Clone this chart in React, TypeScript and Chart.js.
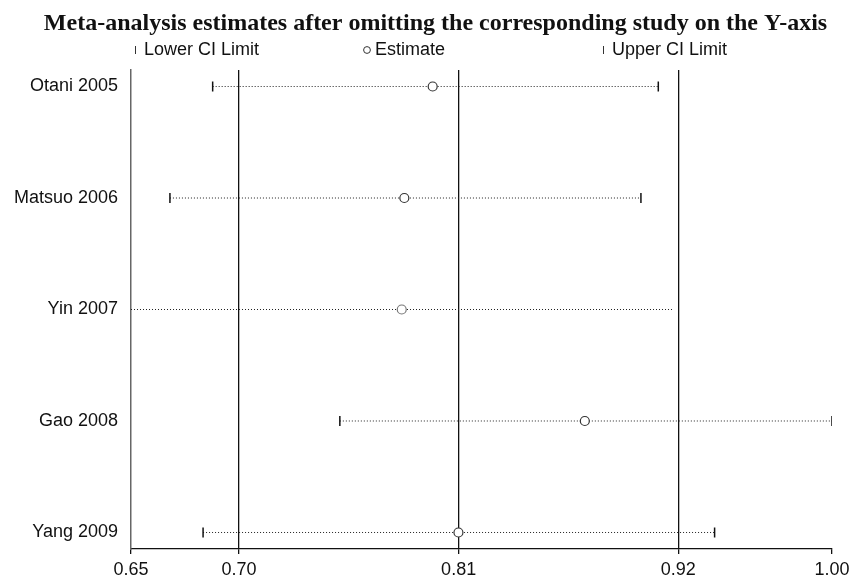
import React, { useEffect, useRef } from "react";
import { Chart, registerables } from "chart.js";

Chart.register(...registerables);

const studies = ["Otani 2005", "Matsuo 2006", "Yin 2007", "Gao 2008", "Yang 2009"];
const lowerCI = [0.6868, 0.6654, 0.6459, 0.7505, 0.682];
const estimates = [0.797, 0.7828, 0.7815, 0.8732, 0.8099];
const upperCI = [0.91, 0.9013, 0.9175, 0.997, 0.9382];
// overall pooled estimate and its CI (vertical reference lines)
const refLines = [0.7, 0.81, 0.92];
const titleText = "Meta-analysis estimates after omitting the corresponding study on the Y-axis";
const legendLabels = ["Lower CI Limit", "Estimate", "Upper CI Limit"];

const xMin = Math.min(...lowerCI);
const xMax = Math.max(...upperCI);
const xTicks = [xMin, ...refLines, xMax];

const SANS = "'Liberation Sans', Arial, sans-serif";
const SERIF = "'Liberation Serif', 'Times New Roman', serif";

const headerPlugin = {
  id: "stataHeader",
  afterDraw(chart: any) {
    const ctx = chart.ctx;
    ctx.save();
    // title
    ctx.fillStyle = "#111";
    ctx.font = `bold 24px ${SERIF}`;
    ctx.textAlign = "center";
    ctx.textBaseline = "alphabetic";
    ctx.fillText(titleText, 435.5, 30);
    // legend
    ctx.strokeStyle = "#333";
    ctx.lineWidth = 1;
    ctx.font = `18px ${SANS}`;
    ctx.textAlign = "left";
    const base = 55;
    ctx.beginPath();
    ctx.moveTo(135.5, 46);
    ctx.lineTo(135.5, 54);
    ctx.stroke();
    ctx.fillText(legendLabels[0], 144, base);
    ctx.beginPath();
    ctx.arc(367, 50, 3.4, 0, Math.PI * 2);
    ctx.stroke();
    ctx.fillText(legendLabels[1], 375, base);
    ctx.beginPath();
    ctx.moveTo(603.5, 46);
    ctx.lineTo(603.5, 54);
    ctx.stroke();
    ctx.fillText(legendLabels[2], 612, base);
    ctx.restore();
  },
};

export default function App() {
  const ref = useRef<HTMLCanvasElement>(null);

  useEffect(() => {
    if (!ref.current) return;
    const rows = studies.map((_, i) => i + 1);
    const ciDatasets = studies.map((s, i) => ({
      type: "line" as const,
      label: s,
      data: [
        { x: lowerCI[i], y: rows[i] },
        { x: upperCI[i], y: rows[i] },
      ],
      borderColor: "#222",
      borderWidth: 1,
      borderDash: [1, 2],
      pointRadius: 0,
      fill: false,
    }));
    const capColors = studies.map((s) => (s === "Yin 2007" ? "rgba(0,0,0,0)" : "#111"));
    const chart = new Chart(ref.current, {
      type: "scatter",
      data: {
        datasets: [
          {
            label: legendLabels[1],
            data: estimates.map((v, i) => ({ x: v, y: rows[i] })),
            pointStyle: "circle",
            pointRadius: 4.5,
            pointBackgroundColor: "#fff",
            pointBorderColor: studies.map((s) => (s === "Yin 2007" ? "#777" : "#333")),
            pointBorderWidth: 1.2,
          },
          {
            label: legendLabels[0],
            data: lowerCI.map((v, i) => ({ x: v, y: rows[i] })),
            pointStyle: "line",
            rotation: 90,
            pointRadius: 5,
            pointBorderColor: capColors,
            pointBorderWidth: 1.5,
          },
          {
            label: legendLabels[2],
            data: upperCI.map((v, i) => ({ x: v, y: rows[i] })),
            pointStyle: "line",
            rotation: 90,
            pointRadius: 5,
            pointBorderColor: capColors,
            pointBorderWidth: 1.5,
          },
          ...ciDatasets,
        ] as any,
      },
      options: {
        animation: false,
        responsive: true,
        maintainAspectRatio: false,
        layout: { padding: { left: 0, right: 24, top: 70, bottom: 0 } },
        plugins: {
          legend: { display: false },
          tooltip: { enabled: false },
          title: { display: false },
        },
        scales: {
          x: {
            type: "linear",
            min: xMin,
            max: xMax,
            afterBuildTicks: (scale: any) => {
              scale.ticks = xTicks.map((v) => ({ value: v }));
            },
            afterFit: (scale: any) => {
              scale.height = 28;
            },
            ticks: {
              autoSkip: false,
              maxRotation: 0,
              padding: 5,
              color: "#111",
              font: { family: SANS, size: 18 },
              callback: (v: any) => Number(v).toFixed(2),
            },
            grid: {
              color: (c: any) =>
                c.tick && refLines.some((r) => Math.abs(r - c.tick.value) < 1e-9) ? "#111" : "rgba(0,0,0,0)",
              tickColor: "#111",
              tickLength: 5,
              lineWidth: 1.3,
            },
            border: { display: true, color: "#111", width: 1.3 },
          },
          y: {
            type: "linear",
            reverse: true,
            min: 0.852,
            max: 5.148,
            afterBuildTicks: (scale: any) => {
              scale.ticks = rows.map((v) => ({ value: v }));
            },
            afterFit: (scale: any) => {
              scale.width = 131;
            },
            ticks: {
              autoSkip: false,
              padding: 13,
              color: "#111",
              font: { family: SANS, size: 18 },
              callback: (v: any) => studies[Math.round(Number(v)) - 1] ?? "",
            },
            grid: { display: false, drawTicks: false },
            border: { display: true, color: "#666", width: 1.5 },
          },
        },
      },
      plugins: [headerPlugin],
    });
    return () => chart.destroy();
  }, []);

  return (
    <div style={{ position: "fixed", left: 0, top: 0, width: 856, height: 577, background: "#fff" }}>
      <canvas ref={ref} />
    </div>
  );
}
